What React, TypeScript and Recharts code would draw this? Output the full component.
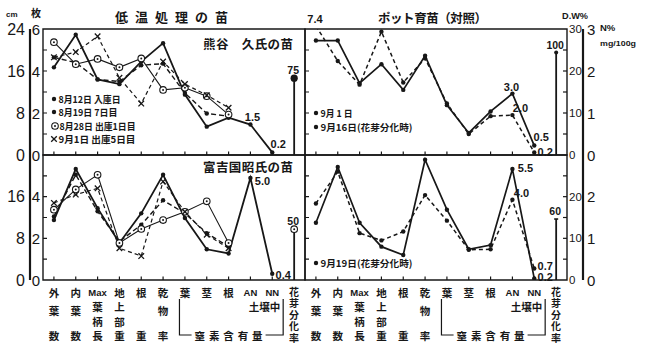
import React from 'react';
import { ComposedChart, Line, Bar, XAxis, YAxis, ReferenceArea, LabelList } from 'recharts';

const INK = '#171717';
const JP = '"Noto Sans CJK JP", "Noto Sans", sans-serif';
const NUM = '"Liberation Sans", Arial, sans-serif';
const W = 645;
const H = 343;
const BW = 524 / 24; // one category band

const items = ['外', '内', 'Max', '地', '根', '乾', '葉', '茎', '根', 'AN', 'NN', '花'];
const captions = [
  ['外', '葉', '', '数'],
  ['内', '葉', '', '数'],
  ['Max', '葉', '柄', '長'],
  ['地', '上', '部', '重'],
  ['根', '', '', '重'],
  ['乾', '物', '', '率'],
  ['葉'],
  ['茎'],
  ['根'],
  ['AN'],
  ['NN'],
  ['花芽分化率'],
];

// values in grid units (0-24 on the cm axis)
// 熊谷 久氏の苗
const kuma0812 = [16.7, 22.9, 14.4, 13.5, 17.8, 21.3, 11.5, 5.4, 7.1, 5.8, 0.5];
const kuma0819 = [18.6, 17.6, 14.4, 14.0, 17.1, 17.4, 11.8, 7.9, 7.4];
const kuma0828 = [21.5, 17.3, 18.3, 16.7, 18.4, 12.4, 12.8, 11.2, 7.7];
const kuma0901 = [18.6, 19.6, 22.6, 14.7, 9.8, 17.8, 13.5, 11.4, 9.0];
const kuma0812Notes = ['', '', '', '', '', '', '', '', '', '1.5', '0.2'];

// ポット育苗 (対照)
const pot0901 = [21.8, 21.8, 13.7, 17.3, 12.4, 18.9, 9.5, 4.2, 8.3, 11.7, 1.8];
const pot0916 = [24.6, 17.9, 13.4, 23.5, 13.8, 18.4, 9.8, 4.0, 7.4, 7.6, 0.5];
const pot0901Notes = ['', '', '', '', '', '', '', '', '', '3.0', '0.5'];
const pot0916Notes = ['7.4', '', '', '', '', '', '', '', '', '2.0', '0.2'];

// 富吉国昭氏の苗
const tomi0812 = [11.5, 21.3, 13.8, 7.1, 12.8, 20.2, 11.9, 5.9, 5.1, 19.6, 1.2];
const tomi0819 = [12.2, 20.2, 13.2, 7.4, 10.6, 15.3, 12.8, 9.0, 6.4];
const tomi0828 = [13.5, 17.4, 20.2, 7.1, 9.8, 11.5, 13.1, 15.1, 7.1];
const tomi0901 = [14.8, 16.4, 17.6, 6.1, 4.6, 18.9, 13.1, 8.7, 6.1];
const tomi0812Notes = ['', '', '', '', '', '', '', '', '', '5.0', '0.4'];

// ポット育苗 9月19日
const pot0919a = [11.0, 21.7, 11.0, 6.4, 4.8, 23.1, 13.5, 5.9, 6.7, 21.3, 0.3];
const pot0919b = [14.7, 20.8, 9.0, 7.6, 9.3, 16.3, 11.4, 5.8, 5.9, 15.4, 2.2];
const pot0919aNotes = ['', '', '', '', '', '', '', '', '', '5.5', '0.2'];
const pot0919bNotes = ['', '', '', '', '', '', '', '', '', '4.0', '0.7'];

// 花芽分化率 (%)
const budRateTop = [75, 100];
const budRateBottom = [50, 60];

type Mark = 'dot' | 'ring' | 'cross';
interface SeriesDef { key: string; axis: string; width: number; dash?: string; mark: Mark }
type Row = Record<string, string | number | null>;

// a1 = 枚 (inner left), a2 = cm (outer left), b1 = D.W% (inner right), b2 = N% (outer right)
const topSeries: SeriesDef[] = [
  { key: 'kuma0812', axis: 'a2', width: 1.8, mark: 'dot' },
  { key: 'kuma0819', axis: 'a2', width: 1.4, dash: '5 3', mark: 'dot' },
  { key: 'kuma0828', axis: 'a1', width: 1.1, mark: 'ring' },
  { key: 'kuma0901', axis: 'a1', width: 1.2, dash: '4 3', mark: 'cross' },
  { key: 'pot0901', axis: 'b1', width: 1.7, mark: 'dot' },
  { key: 'pot0916', axis: 'b2', width: 1.5, dash: '4 3', mark: 'dot' },
];
const bottomSeries: SeriesDef[] = [
  { key: 'tomi0812', axis: 'a2', width: 1.8, mark: 'dot' },
  { key: 'tomi0819', axis: 'a2', width: 1.4, dash: '5 3', mark: 'dot' },
  { key: 'tomi0828', axis: 'a1', width: 1.1, mark: 'ring' },
  { key: 'tomi0901', axis: 'a1', width: 1.2, dash: '4 3', mark: 'cross' },
  { key: 'pot0919a', axis: 'b1', width: 1.7, mark: 'dot' },
  { key: 'pot0919b', axis: 'b2', width: 1.5, dash: '4 3', mark: 'dot' },
];

// label placement relative to its point: [dx, dy]
const noteOffsets: Record<string, [number, number]> = {
  'kuma0812:9': [2, -8],
  'kuma0812:10': [6, -8],
  'pot0916:0': [-1, -7],
  'pot0901:9': [-1, -7],
  'pot0916:9': [8, -7],
  'pot0901:10': [7, -9],
  'pot0916:10': [11, 0],
  'tomi0812:9': [12, 3],
  'tomi0812:10': [11, 1],
  'pot0919a:9': [13, -1],
  'pot0919b:9': [9, -7],
  'pot0919b:10': [11, -3],
  'pot0919a:10': [11, -1],
};

function buildRows(
  left: Record<string, number[]>,
  right: Record<string, number[]>,
  notes: Record<string, string[]>,
  rates: number[],
): Row[] {
  const keys = [...Object.keys(left), ...Object.keys(right)];
  const rows: Row[] = [];
  [left, right].forEach((src, side) => {
    items.forEach((name, i) => {
      const row: Row = { key: (side ? 'R' : 'L') + i, name, rate: i === 11 ? rates[side] : null };
      keys.forEach((k) => {
        row[k] = k in src ? src[k][i] ?? null : null;
        if (notes[k]) row[k + 'Note'] = k in src ? notes[k][i] || null : null;
      });
      rows.push(row);
    });
  });
  return rows;
}

const topRows = buildRows(
  { kuma0812, kuma0819, kuma0828, kuma0901 },
  { pot0901, pot0916 },
  { kuma0812: kuma0812Notes, pot0901: pot0901Notes, pot0916: pot0916Notes },
  budRateTop,
);
const bottomRows = buildRows(
  { tomi0812, tomi0819, tomi0828, tomi0901 },
  { pot0919a, pot0919b },
  { tomi0812: tomi0812Notes, pot0919a: pot0919aNotes, pot0919b: pot0919bNotes },
  budRateBottom,
);

function Marker({ cx, cy, type }: { cx: number; cy: number; type: Mark }) {
  if (type === 'ring') {
    return (
      <g>
        <circle cx={cx} cy={cy} r={3.3} fill="#fff" stroke={INK} strokeWidth={1.1} />
        <circle cx={cx} cy={cy} r={1} fill={INK} />
      </g>
    );
  }
  if (type === 'cross') {
    const d = 2.8;
    return (
      <path
        d={`M${cx - d},${cy - d}L${cx + d},${cy + d}M${cx - d},${cy + d}L${cx + d},${cy - d}`}
        stroke={INK}
        strokeWidth={1.3}
      />
    );
  }
  return <circle cx={cx} cy={cy} r={2.2} fill={INK} />;
}

function Note(p: any) {
  const value = p.value;
  const x = p.viewBox?.x ?? p.x;
  const y = p.viewBox?.y ?? p.y;
  if (value == null || value === '' || x == null || y == null) return null;
  const o = noteOffsets[`${p.sid}:${p.index % 12}`] ?? [8, 0];
  return (
    <text x={x + o[0]} y={y + o[1]} textAnchor="middle" dominantBaseline="central"
      fontSize={11} fontFamily={NUM} fontWeight="bold" fill={INK}>
      {value}
    </text>
  );
}

function RateLabel(p: any) {
  const vb = p.viewBox ?? p;
  if (p.value == null || vb.x == null) return null;
  return (
    <text x={vb.x + vb.width / 2 - 1} y={vb.y - 8} textAnchor="middle" dominantBaseline="central"
      fontSize={10.5} fontFamily={NUM} fontWeight="bold" fill={INK}>
      {p.value}
    </text>
  );
}

function Stem(p: any) {
  const { x, y, width, height, upper } = p;
  if (x == null || !height || height <= 0) return <g />;
  const cx = x + width / 2;
  const right = String(p.payload?.key ?? '').startsWith('R');
  let head: React.ReactNode;
  if (upper) head = <circle cx={cx} cy={y} r={right ? 2 : 3.6} fill={INK} />;
  else if (!right) head = <Marker cx={cx} cy={y} type="ring" />;
  else head = <line x1={cx - 2} x2={cx + 2} y1={y} y2={y} stroke={INK} strokeWidth={1.6} />;
  return (
    <g>
      <line x1={cx} x2={cx} y1={y} y2={y + height} stroke={INK} strokeWidth={1.8} />
      {head}
    </g>
  );
}

function TopTick({ x, y, index }: any) {
  if (index % 12 === 11) return <g />;
  return <line x1={x} x2={x} y1={y} y2={y - 3.5} stroke={INK} strokeWidth={1.2} />;
}

function BottomTick({ x, y, index }: any) {
  const j = index % 12;
  const stack = captions[j];
  const nodes: React.ReactNode[] = [];
  if (j === 11) {
    nodes.push(
      <text key="v" x={x} y={y + 7} writingMode="vertical-rl" fontSize={10} letterSpacing={1.5}
        fontFamily={JP} fontWeight="bold" fill={INK}>
        {stack[0]}
      </text>,
    );
    return <g>{nodes}</g>;
  }
  const ys = [12, stack[2] ? 26 : 30, 41, 55];
  nodes.push(<line key="t" x1={x} x2={x} y1={y} y2={y - 3.5} stroke={INK} strokeWidth={1.2} />);
  stack.forEach((ch, k) => {
    if (!ch) return;
    const latin = /^[A-Za-z]+$/.test(ch);
    nodes.push(
      <text key={k} x={x} y={y + ys[k]} textAnchor="middle" dominantBaseline="central"
        fontSize={latin ? 9.5 : 10.5} fontFamily={latin ? NUM : JP} fontWeight="bold" fill={INK}>
        {ch}
      </text>,
    );
  });
  if (j === 8) {
    const xl = x - 2.25 * BW;
    const xr = x + 2.5 * BW;
    const t = y + 19;
    const b = y + 55;
    nodes.push(
      <path key="br" d={`M${xl},${t}V${b}H${x - 37}M${x + 37},${b}H${xr}V${t}`} fill="none" stroke={INK} strokeWidth={1.2} />,
      <text key="n" x={x} y={b} textAnchor="middle" dominantBaseline="central" textLength={68}
        lengthAdjust="spacing" fontSize={10.5} fontFamily={JP} fontWeight="bold" fill={INK}>
        窒素含有量
      </text>,
      <text key="s" x={xr - 3} y={y + 26} textAnchor="end" dominantBaseline="central"
        fontSize={10.5} fontFamily={JP} fontWeight="bold" fill={INK}>
        土壌中
      </text>,
    );
  }
  return <g>{nodes}</g>;
}

const minorTicks = [0, 4, 8, 12, 16, 20, 24];
const majorTicks = [0, 8, 16, 24];

function Panel({ rows, series, top, bottom, upper }: { rows: Row[]; series: SeriesDef[]; top: number; bottom: number; upper: boolean }) {
  const xh = upper ? 6 : 60;
  const showLabel = (v: number) => v % 8 === 0 && (upper || v < 24);
  return (
    <ComposedChart width={W} height={H} data={rows} margin={{ top, left: 0, right: 42, bottom: H - bottom - xh }}>
      <XAxis dataKey="key" interval={0} height={xh} axisLine={false} tickLine={false} tickSize={0} tickMargin={0}
        tick={(p: any) => (upper ? <TopTick {...p} /> : <BottomTick {...p} />)} />
      <YAxis yAxisId="a2" orientation="left" width={30} domain={[0, 24]} allowDataOverflow ticks={majorTicks} interval={0}
        axisLine={{ stroke: INK, strokeWidth: 2.2 }} tickLine={false} tickSize={0} tickMargin={0}
        tick={({ x, y, payload }: any) =>
          showLabel(payload.value) ? (
            <text x={x - 5} y={y} textAnchor="end" dominantBaseline="central" fontSize={16} fontFamily={NUM} fill={INK}>
              {payload.value}
            </text>
          ) : <g />
        } />
      <YAxis yAxisId="a1" orientation="left" width={13} domain={[0, 24]} allowDataOverflow ticks={minorTicks} interval={0}
        axisLine={false} tickLine={false} tickSize={0} tickMargin={0}
        tick={({ x, y, payload }: any) => (
          <g>
            {payload.value > 0 && payload.value < 24 && (
              <path d={`M${x},${y}h4M${x + 12 * BW},${y}h4`} stroke={INK} strokeWidth={1.2} />
            )}
            {showLabel(payload.value) && (
              <text x={x - 3} y={y} textAnchor="end" dominantBaseline="central" fontSize={15} fontFamily={NUM} fill={INK}>
                {payload.value / 4}
              </text>
            )}
          </g>
        )} />
      <YAxis yAxisId="b1" orientation="right" width={16} domain={[0, 24]} allowDataOverflow ticks={minorTicks} interval={0}
        axisLine={false} tickLine={false} tickSize={0} tickMargin={0}
        tick={({ x, y, payload }: any) => (
          <g>
            {payload.value > 0 && payload.value < 24 && <path d={`M${x},${y}h-4`} stroke={INK} strokeWidth={1.2} />}
            {showLabel(payload.value) && (
              <text x={x + 2} y={y} textAnchor="start" dominantBaseline="central" fontSize={11.5} fontFamily={NUM} fill={INK}>
                {(payload.value * 30) / 24}
              </text>
            )}
          </g>
        )} />
      <YAxis yAxisId="b2" orientation="right" width={20} domain={[0, 24]} allowDataOverflow ticks={majorTicks} interval={0}
        axisLine={{ stroke: INK, strokeWidth: 2.2 }} tickLine={false} tickSize={0} tickMargin={0}
        tick={({ x, y, payload }: any) =>
          showLabel(payload.value) ? (
            <text x={x + 4} y={y} textAnchor="start" dominantBaseline="central" fontSize={15} fontFamily={NUM} fill={INK}>
              {payload.value / 8}
            </text>
          ) : <g />
        } />
      <YAxis yAxisId="rate" hide domain={[0, 123]} />
      <ReferenceArea x1="L0" x2="L11" y1={0} y2={24} yAxisId="a2" fill="none" stroke={INK} strokeWidth={1.4} />
      <ReferenceArea x1="R0" x2="R11" y1={0} y2={24} yAxisId="a2" fill="none" stroke={INK} strokeWidth={1.4} />
      <Bar yAxisId="rate" dataKey="rate" barSize={2} isAnimationActive={false}
        shape={(p: any) => <Stem {...p} upper={upper} />}>
        <LabelList dataKey="rate" content={RateLabel} />
      </Bar>
      {series.map((s) => (
        <Line key={s.key} yAxisId={s.axis} dataKey={s.key} stroke={INK} strokeWidth={s.width} strokeDasharray={s.dash}
          isAnimationActive={false} activeDot={false} connectNulls={false}
          dot={(p: any) =>
            p.value == null || p.cy == null ? <g key={`${s.key}-${p.index}`} /> : (
              <g key={`${s.key}-${p.index}`}><Marker cx={p.cx} cy={p.cy} type={s.mark} /></g>
            )
          }>
          {rows.some((r) => r[s.key + 'Note']) && (
            <LabelList dataKey={s.key + 'Note'} content={(p: any) => <Note {...p} sid={s.key} />} />
          )}
        </Line>
      ))}
    </ComposedChart>
  );
}

function LegendLine({ x, y, mark, text, len }: { x: number; y: number; mark: Mark; text: string; len: number }) {
  return (
    <g>
      <Marker cx={x} cy={y} type={mark} />
      <text x={x + 4.5} y={y} dominantBaseline="central" fontSize={9.5} fontFamily={JP} fontWeight="bold"
        textLength={len} lengthAdjust="spacingAndGlyphs" fill={INK}>
        {text}
      </text>
    </g>
  );
}

export default function App() {
  const jp = { fontFamily: JP, fontWeight: 'bold' as const, fill: INK, dominantBaseline: 'central' as const };
  return (
    <div style={{ position: 'absolute', left: 0, top: 0, width: W, height: H, background: '#fff' }}>
      <div style={{ position: 'absolute', left: 0, top: 0 }}>
        <Panel rows={topRows} series={topSeries} top={29} bottom={155} upper />
      </div>
      <div style={{ position: 'absolute', left: 0, top: 0 }}>
        <Panel rows={bottomRows} series={bottomSeries} top={155} bottom={280} upper={false} />
      </div>
      <svg width={W} height={H} style={{ position: 'absolute', left: 0, top: 0, pointerEvents: 'none' }}>
        <text x={115} y={16} fontSize={13} textLength={113} lengthAdjust="spacing" {...jp}>低温処理の苗</text>
        <text x={378} y={17} fontSize={12.5} textLength={109} lengthAdjust="spacing" {...jp}>ポット育苗（対照）</text>
        <text x={203} y={43} fontSize={12.5} textLength={90} lengthAdjust="spacing" {...jp}>熊谷　久氏の苗</text>
        <text x={203} y={166} fontSize={12.5} textLength={90} lengthAdjust="spacing" {...jp}>富吉国昭氏の苗</text>
        <text x={6} y={14} fontSize={8} fontFamily={NUM} fontWeight="bold" fill={INK} dominantBaseline="central">cm</text>
        <text x={31} y={12} fontSize={10} {...jp}>枚</text>
        <text x={562} y={16} fontSize={9} fontFamily={NUM} fontWeight="bold" fill={INK} dominantBaseline="central"
          textLength={26} lengthAdjust="spacingAndGlyphs">D.W%</text>
        <text x={600} y={27} fontSize={9.5} fontFamily={NUM} fontWeight="bold" fill={INK} dominantBaseline="central">N%</text>
        <text x={600} y={43} fontSize={7.5} fontFamily={NUM} fontWeight="bold" fill={INK} dominantBaseline="central"
          textLength={36} lengthAdjust="spacingAndGlyphs">mg/100g</text>
        <LegendLine x={54} y={99} mark="dot" text="8月12日 入庫日" len={62} />
        <LegendLine x={54} y={112} mark="dot" text="8月19日 7日目" len={59} />
        <LegendLine x={55} y={126} mark="ring" text="8月28日 出庫1日目" len={76} />
        <LegendLine x={54} y={139} mark="cross" text="9月1日 出庫5日目" len={77} />
        <LegendLine x={316} y={113} mark="dot" text="9月 1 日" len={32} />
        <LegendLine x={316} y={127} mark="dot" text="9月16日(花芽分化時)" len={92} />
        <LegendLine x={316} y={263} mark="dot" text="9月19日(花芽分化時)" len={92} />
      </svg>
    </div>
  );
}
